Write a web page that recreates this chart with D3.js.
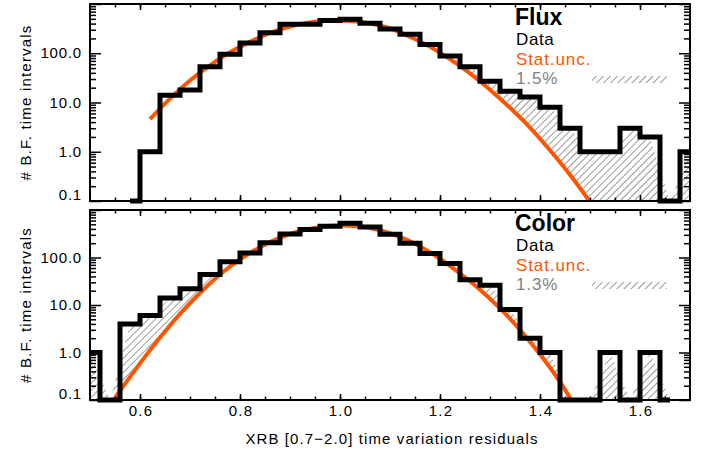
<!DOCTYPE html>
<html>
<head>
<meta charset="utf-8">
<script src="https://cdn.jsdelivr.net/npm/d3@7"></script>
<style>
body { margin: 0; background: #fff; }
svg text { font-family: "Liberation Sans", Arial, sans-serif; }
</style>
</head>
<body>
<svg id="chart" width="711" height="452"></svg>
<script>
// histogram bin centres (bin width 0.04) and counts
const fluxX = [0.58, 0.62, 0.66, 0.70, 0.74, 0.78, 0.82, 0.86, 0.90, 0.94, 0.98, 1.02, 1.06, 1.10, 1.14,
    1.18, 1.22, 1.26, 1.30, 1.34, 1.38, 1.42, 1.46, 1.50, 1.54, 1.58, 1.62, 1.66, 1.70];
const fluxCounts = [0, 1, 14, 18, 53, 95, 162, 262, 390, 390, 465, 490, 405, 310, 243,
    151, 88, 53, 27, 17, 13, 8, 3, 1, 1, 3, 2, 0, 1];

const colorX = [0.50, 0.54, 0.58, 0.62, 0.66, 0.70, 0.74, 0.78, 0.82, 0.86, 0.90, 0.94, 0.98, 1.02, 1.06,
    1.10, 1.14, 1.18, 1.22, 1.26, 1.30, 1.34, 1.38, 1.42, 1.46, 1.50, 1.54, 1.58, 1.62, 1.66];
const colorCounts = [1, 0, 4, 6, 14, 22, 44, 81, 124, 204, 313, 390, 457, 524, 440,
    310, 200, 122, 75, 34, 26, 8, 2, 1, 0, 0, 1, 0, 1, 0];

// statistical expectation curves (orange)
const fluxStatX = [0.62, 0.66, 0.70, 0.74, 0.78, 0.82, 0.86, 0.90, 0.94, 0.98, 1.02, 1.06, 1.10, 1.14,
    1.18, 1.22, 1.26, 1.30, 1.34, 1.38, 1.42, 1.46, 1.50];
const fluxStatY = [4.6, 12, 28, 57, 105, 170, 260, 350, 420, 460, 450, 400, 320, 215,
    136, 76, 39, 18.2, 7.8, 3.1, 1.07, 0.34, 0.096];

const colorStatX = [0.52, 0.56, 0.60, 0.64, 0.68, 0.72, 0.76, 0.80, 0.84, 0.88, 0.92, 0.96, 1.00, 1.04,
    1.08, 1.12, 1.16, 1.20, 1.24, 1.28, 1.32, 1.36, 1.40, 1.44, 1.46, 1.48];
const colorStatY = [0.037, 0.155, 0.59, 2.06, 6.5, 17.9, 43.8, 91, 165, 261, 361, 439, 470, 450,
    374, 271, 171, 94, 46, 21, 8.5, 3.0, 0.92, 0.24, 0.11, 0.045];

const xTickLabels = [0.6, 0.8, 1.0, 1.2, 1.4, 1.6];
const yTickLabels = [0.1, 1, 10, 100];

const ORANGE = "#ff5500";
const GREY = "#808080";

var svg = d3.select("#chart");
var defs = svg.append("defs");

defs.append("pattern")
    .attr("id", "hatch").attr("patternUnits", "userSpaceOnUse")
    .attr("width", 5).attr("height", 5).attr("patternTransform", "rotate(45)")
    .append("line").attr("x1", 0).attr("y1", 0).attr("x2", 0).attr("y2", 5)
    .attr("stroke", "#767676").attr("stroke-width", 1.5);

var x = d3.scaleLinear().domain([0.5, 1.7]).range([90, 690]);

function drawPanel(id, top, bottom, centers, counts, statX, statY, name, pct) {
    var y = d3.scaleLog().domain([0.1, 1000]).range([bottom, top]);
    var yc = function(v) { return y(Math.max(v, 0.1)); };
    var g = svg.append("g");

    // clip: under polyline through bin centres
    var polyA = [[x(centers[0]), bottom]];
    centers.forEach(function(c, i) { polyA.push([x(c), yc(counts[i])]); });
    polyA.push([x(centers[centers.length - 1]), bottom]);
    defs.append("clipPath").attr("id", id + "A").append("path")
        .attr("d", d3.line()(polyA) + "Z");

    // clip: under histogram steps (empty bins left open)
    var stepArea = d3.area().curve(d3.curveStep)
        .x(function(d) { return x(d[0]); })
        .y0(bottom)
        .y1(function(d) { return d[1] <= 0 ? top : yc(d[1]); });
    defs.append("clipPath").attr("id", id + "B").append("path")
        .attr("d", stepArea(centers.map(function(c, i) { return [c, counts[i]]; })));

    // clip: above the orange curve
    var pts = statX.map(function(sx, i) { return [x(sx), Math.min(y(statY[i]), bottom)]; });
    var lead = "";
    if (statY[0] <= 0.1) lead = "M" + x(0.5) + "," + bottom;
    var cPath = d3.line().curve(d3.curveMonotoneX)(pts);
    if (lead) cPath = lead + "L" + cPath.slice(1);
    var xl = statY[0] <= 0.1 ? x(0.5) : pts[0][0];
    var xr = statY[statY.length - 1] <= 0.1 ? x(1.7) : pts[pts.length - 1][0];
    cPath += "L" + xr + "," + bottom + "L" + xr + "," + top + "L" + xl + "," + top + "Z";
    defs.append("clipPath").attr("id", id + "C").append("path").attr("d", cPath);

    defs.append("clipPath").attr("id", id + "P").append("rect")
        .attr("x", 90).attr("y", top).attr("width", 600).attr("height", bottom - top);

    g.append("g").attr("clip-path", "url(#" + id + "A)")
        .append("g").attr("clip-path", "url(#" + id + "B)")
        .append("g").attr("clip-path", "url(#" + id + "C)")
        .append("rect").attr("x", 90).attr("y", top).attr("width", 600).attr("height", bottom - top)
        .attr("fill", "url(#hatch)");

    // orange stat curve
    g.append("path")
        .attr("clip-path", "url(#" + id + "P)")
        .attr("d", d3.line().curve(d3.curveMonotoneX)
            .x(function(d, i) { return x(d); })
            .y(function(d, i) { return y(statY[i]); })(statX))
        .attr("fill", "none").attr("stroke", ORANGE).attr("stroke-width", 4);

    // data histogram
    g.append("path")
        .attr("d", d3.line().curve(d3.curveStep)
            .x(function(d) { return x(d); })
            .y(function(d, i) { return yc(counts[i]); })(centers))
        .attr("fill", "none").attr("stroke", "#000").attr("stroke-width", 5)
        .attr("stroke-linejoin", "miter");

    // axes with inward ticks
    var minorY = [];
    [0.1, 1, 10, 100].forEach(function(d) {
        for (var k = 2; k <= 9; k++) minorY.push(d * k);
    });
    var majorY = [0.1, 1, 10, 100, 1000];
    var minorX = d3.range(0.55, 1.70, 0.05);

    function styleAxis(sel) {
        sel.select(".domain").remove();
        sel.selectAll("line").attr("stroke", "#000").attr("stroke-width", 1.5);
        sel.selectAll("text").remove();
    }
    g.append("g").attr("transform", "translate(90,0)")
        .call(d3.axisLeft(y).tickValues(minorY).tickSize(-6)).call(styleAxis);
    g.append("g").attr("transform", "translate(90,0)")
        .call(d3.axisLeft(y).tickValues(majorY).tickSize(-11)).call(styleAxis);
    g.append("g").attr("transform", "translate(690,0)")
        .call(d3.axisRight(y).tickValues(minorY).tickSize(-6)).call(styleAxis);
    g.append("g").attr("transform", "translate(690,0)")
        .call(d3.axisRight(y).tickValues(majorY).tickSize(-11)).call(styleAxis);
    g.append("g").attr("transform", "translate(0," + bottom + ")")
        .call(d3.axisBottom(x).tickValues(minorX).tickSize(-3.5)).call(styleAxis);
    g.append("g").attr("transform", "translate(0," + bottom + ")")
        .call(d3.axisBottom(x).tickValues(xTickLabels).tickSize(-6)).call(styleAxis);
    g.append("g").attr("transform", "translate(0," + top + ")")
        .call(d3.axisTop(x).tickValues(minorX).tickSize(-3.5)).call(styleAxis);
    g.append("g").attr("transform", "translate(0," + top + ")")
        .call(d3.axisTop(x).tickValues(xTickLabels).tickSize(-6)).call(styleAxis);

    g.append("rect").attr("x", 90).attr("y", top).attr("width", 600).attr("height", bottom - top)
        .attr("fill", "none").attr("stroke", "#000").attr("stroke-width", 2);

    // y tick labels
    g.selectAll(".ylab").data(yTickLabels).enter().append("text")
        .attr("x", 82)
        .attr("y", function(d) { return y(d) + 5 - (d === 0.1 ? 6 : 0); })
        .attr("text-anchor", "end").attr("font-size", 15).attr("letter-spacing", 0.8)
        .text(d3.format(".1f"));

    // y title
    g.append("text")
        .attr("transform", "translate(31," + (top + bottom) / 2 + ") rotate(-90)")
        .attr("text-anchor", "middle").attr("font-size", 15).attr("letter-spacing", 1.2)
        .text("# B.F. time intervals");

    // legend
    g.append("text").attr("x", 515).attr("y", top + 21).attr("font-size", 23)
        .attr("font-weight", "bold").text(name);
    g.append("text").attr("x", 516).attr("y", top + 41).attr("font-size", 17)
        .attr("letter-spacing", 0.6).text("Data");
    g.append("text").attr("x", 516).attr("y", top + 61).attr("font-size", 17)
        .attr("letter-spacing", 0.9).attr("fill", ORANGE).text("Stat.unc.");
    g.append("text").attr("x", 516).attr("y", top + 80).attr("font-size", 17)
        .attr("letter-spacing", 0.9).attr("fill", GREY).text(pct);
    g.append("rect").attr("x", 592).attr("y", top + 72).attr("width", 75).attr("height", 7)
        .attr("fill", "url(#hatch)");

    return y;
}

drawPanel("flux", 4, 201, fluxX, fluxCounts, fluxStatX, fluxStatY, "Flux", "1.5%");
drawPanel("color", 210, 400, colorX, colorCounts, colorStatX, colorStatY, "Color", "1.3%");

// x tick labels (bottom panel only)
svg.selectAll(".xlab").data(xTickLabels).enter().append("text")
    .attr("x", function(d) { return x(d) + 1; }).attr("y", 416)
    .attr("text-anchor", "middle").attr("font-size", 15).attr("letter-spacing", 1.2)
    .text(d3.format(".1f"));

svg.append("text").attr("x", 392).attr("y", 444)
    .attr("text-anchor", "middle").attr("font-size", 15).attr("letter-spacing", 1.1)
    .text("XRB [0.7\u22122.0] time variation residuals");
</script>
</body>
</html>
